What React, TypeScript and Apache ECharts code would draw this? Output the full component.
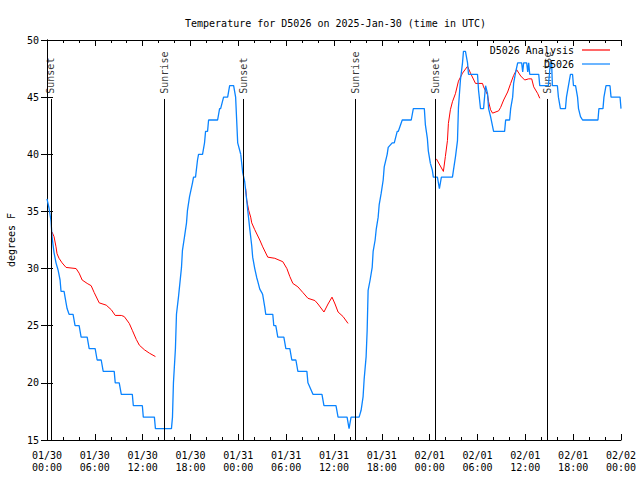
import React, { useEffect, useRef } from "react";
import * as echarts from "echarts";

const FONT = "'DejaVu Sans Mono', 'Liberation Mono', monospace";
const TITLE = "Temperature for D5026 on 2025-Jan-30 (time in UTC)";

// x values are hours since 2025-01-30 00:00 UTC
const tickLabels = [
  "01/30\n00:00", "01/30\n06:00", "01/30\n12:00", "01/30\n18:00",
  "01/31\n00:00", "01/31\n06:00", "01/31\n12:00", "01/31\n18:00",
  "02/01\n00:00", "02/01\n06:00", "02/01\n12:00", "02/01\n18:00",
  "02/02\n00:00",
];

const sunsetHours = [0.5, 24.65, 48.72];
const sunriseHours = [14.73, 38.65, 62.8];

// Observations (D5026)
const obsDay1: [number, number][] = [
  [0, 36.1], [0.25, 35.3], [0.5, 34.2], [0.63, 32.8], [0.88, 31.4], [1.13, 30.5], [1.38, 29.9],
  [1.64, 29.0], [1.76, 28], [2.14, 28], [2.39, 27], [2.52, 26.5], [2.77, 26], [3.27, 26],
  [3.52, 25], [4.03, 25], [4.28, 24], [5.04, 24], [5.29, 23], [6.04, 23], [6.29, 22], [6.8, 22],
  [7.05, 21], [8.43, 21], [8.56, 20], [9.06, 20], [9.32, 19], [10.7, 19], [10.83, 18], [11.96, 18],
  [12.08, 17], [13.47, 17], [13.6, 16], [15.61, 16], [15.74, 17], [15.86, 20], [16.11, 23],
  [16.24, 26], [16.49, 27.5], [16.87, 30.1], [16.99, 31.6], [17.25, 32.8], [17.5, 34],
  [17.62, 35.1], [17.88, 36.3], [18.25, 37.5], [18.38, 38], [18.63, 38], [18.88, 39.5],
  [19.01, 40], [19.51, 40], [19.76, 41], [19.89, 42], [20.14, 42], [20.27, 43], [21.4, 43],
  [21.65, 44], [21.78, 44], [22.15, 45], [22.66, 45], [22.91, 46], [23.41, 46], [23.66, 45],
  [23.79, 43], [23.92, 41],
];
const obsDay2: [number, number][] = [
  [24.3, 40], [24.55, 38.4], [24.8, 37.6], [25.05, 36], [25.18, 35.1], [25.43, 33.5], [25.68, 32],
  [25.8, 31], [26.06, 30], [26.31, 29.2], [26.43, 28.9], [26.69, 28.2], [26.94, 27.9],
  [27.06, 27.7], [27.32, 26.6], [27.44, 26], [28.32, 26], [28.45, 25], [28.7, 25], [28.95, 24],
  [29.71, 24], [29.96, 23], [30.46, 23], [30.71, 22], [31.22, 22], [31.47, 21], [32.6, 21],
  [32.73, 20], [33.36, 19], [34.49, 19], [34.74, 18], [36.25, 18], [36.51, 17], [37.64, 17],
  [37.89, 16], [38.14, 17], [39.15, 17], [39.4, 17.6], [39.65, 18.8], [39.78, 20.3],
  [40.03, 22.3], [40.16, 24.6], [40.28, 28.1], [40.53, 29], [40.79, 30.1], [40.91, 31.5],
  [41.16, 32.5], [41.29, 33.4], [41.54, 34.5], [41.67, 35.6], [41.92, 36.6], [42.17, 37.75],
  [42.3, 38.9], [42.67, 40], [42.8, 40.6], [43.3, 41], [43.56, 41], [43.93, 42], [44.06, 42],
  [44.56, 43], [45.69, 43], [45.95, 44], [47.33, 44], [47.46, 42.6], [47.71, 41.4],
  [47.83, 40.3],
];
const obsDay3: [number, number][] = [
  [48.09, 39.2], [48.34, 38.6], [48.46, 38], [48.97, 38], [49.22, 37], [49.47, 38], [50.86, 38],
  [50.98, 38.6], [51.24, 39.8], [51.49, 41.2], [51.61, 44.1], [51.86, 46.5], [52.12, 48],
  [52.24, 49], [52.49, 49], [52.75, 48], [52.87, 47], [54.0, 47], [54.13, 45.6], [54.38, 44],
  [54.76, 44], [55.01, 46], [55.26, 45.3], [55.39, 44], [55.64, 43.3], [56.02, 42], [57.4, 42],
  [57.53, 43], [58.03, 43], [58.16, 44], [58.41, 45], [58.53, 46.2], [58.79, 47.2], [59.04, 48],
  [59.54, 48], [59.67, 47.2], [59.79, 48], [60.17, 48], [60.3, 47.2], [60.42, 48], [60.55, 47],
  [61.68, 47], [61.81, 46], [62.89, 46], [63.02, 47], [63.14, 48], [63.3, 48], [63.39, 46],
  [64.02, 46], [64.15, 45], [64.4, 44], [65.03, 44], [65.16, 45], [65.41, 46], [65.66, 47],
  [65.92, 47], [66.04, 46], [66.3, 46], [66.55, 45], [66.67, 44], [66.92, 43.3], [67.18, 43],
  [69.11, 43], [69.23, 44], [69.74, 44], [69.86, 45], [70.12, 46], [70.62, 46], [70.75, 45],
  [71.88, 45], [72.0, 44],
];

// Analysis (D5026 Analysis)
const anaNight1: [number, number][] = [
  [0.63, 33.2], [0.88, 32.8], [1.13, 31.9], [1.26, 31.3], [1.51, 30.9], [1.89, 30.5],
  [2.39, 30.1], [3.65, 30.0], [4.03, 29.6], [4.41, 29.0], [5.04, 28.7], [5.54, 28.5],
  [5.92, 27.9], [6.55, 27.0], [7.43, 26.8], [8.06, 26.4], [8.56, 25.9], [9.32, 25.9],
  [9.69, 25.8], [10.32, 25.2], [10.7, 24.6], [11.2, 23.8], [11.58, 23.3], [12.21, 22.9],
  [12.84, 22.6], [13.6, 22.3],
];
const anaNight2: [number, number][] = [
  [24.92, 37.0], [25.05, 36], [25.3, 35.1], [25.55, 34.5], [25.68, 34], [26.06, 33.4],
  [26.69, 32.5], [27.06, 31.9], [27.69, 31.0], [28.57, 30.9], [29.58, 30.6], [30.09, 30.0],
  [30.46, 29.3], [30.84, 28.7], [31.47, 28.4], [32.1, 27.9], [32.73, 27.4], [33.61, 27.2],
  [33.99, 26.9], [34.74, 26.2], [35.25, 26.9], [35.75, 27.5], [36.13, 26.9], [36.51, 26.2],
  [37.14, 25.8], [37.76, 25.2],
];
const anaNight3: [number, number][] = [
  [48.84, 39.6], [49.72, 38.5], [49.97, 39.8], [50.23, 41.2], [50.35, 42.7], [50.6, 43.9],
  [50.86, 44.6], [51.23, 45.3], [51.61, 46.4], [52.12, 47.1], [52.75, 47.7], [53.12, 47.1],
  [53.75, 46.2], [54.63, 46.2], [54.76, 45.9], [55.26, 45.2], [55.39, 44.6], [55.64, 43.9],
  [55.89, 43.6], [56.65, 43.8], [56.9, 44.1], [57.28, 44.75], [57.78, 45.45], [58.16, 46.2],
  [58.53, 46.9], [58.91, 47.4], [59.42, 46.85], [59.92, 46.5], [60.42, 46.6], [60.8, 46.6],
  [61.05, 45.9], [61.56, 45.3], [61.81, 44.9],
];

const Y_MIN = 15;
const Y_MAX = 50;
const SUN_LINE_TOP = 44.84;
const SUN_LABEL_Y = 45.3;

const RED = "#ff0000";
const BLUE = "#0a84ff";

export default function App() {
  const ref = useRef<HTMLDivElement>(null);

  useEffect(() => {
    if (!ref.current) return;
    const chart = echarts.init(ref.current, undefined, { renderer: "svg" });

    const tickCommon = {
      axisLine: { show: true, lineStyle: { color: "#000", width: 1 } },
      axisTick: { show: true, inside: true, length: 6, lineStyle: { color: "#000", width: 1 } },
      splitLine: { show: false },
    };

    const sunEvents = [
      ...sunsetHours.map((h) => ({ h, name: "Sunset" })),
      ...sunriseHours.map((h) => ({ h, name: "Sunrise" })),
    ];

    const option: any = {
      animation: false,
      backgroundColor: "#fff",
      textStyle: { fontFamily: FONT },
      title: {
        text: TITLE,
        left: 180,
        top: 13,
        textStyle: { fontFamily: FONT, fontSize: 10, fontWeight: "normal", color: "#000" },
      },
      legend: {
        orient: "vertical",
        right: 30,
        top: 45,
        padding: 0,
        align: "right",
        itemWidth: 28,
        itemHeight: 10,
        itemGap: 4,
        icon: "path://M0,0H28V1.2H0Z",
        selectedMode: false,
        textStyle: { fontFamily: FONT, fontSize: 10, color: "#000", padding: [0, 3, 0, 0] },
        data: ["D5026 Analysis", "D5026"],
      },
      grid: { left: 47, top: 40, width: 574, height: 400, containLabel: false, outerBoundsMode: "none" },
      xAxis: [
        {
          type: "value",
          min: 0,
          max: 72,
          interval: 6,
          position: "bottom",
          ...tickCommon,
          minorTick: { show: true, splitNumber: 3, length: 3, lineStyle: { color: "#000" } },
          minorSplitLine: { show: false },
          axisLabel: {
            show: true,
            margin: 9,
            fontFamily: FONT,
            fontSize: 10,
            lineHeight: 12,
            color: "#000",
            formatter: (v: number) => tickLabels[Math.round(v / 6)] ?? "",
          },
        },
        {
          type: "value",
          min: 0,
          max: 72,
          interval: 6,
          position: "top",
          ...tickCommon,
          minorTick: { show: true, splitNumber: 3, length: 3, lineStyle: { color: "#000" } },
          minorSplitLine: { show: false },
          axisLabel: { show: false },
        },
      ],
      yAxis: [
        {
          type: "value",
          min: Y_MIN,
          max: Y_MAX,
          interval: 5,
          position: "left",
          ...tickCommon,
          name: "degrees F",
          nameLocation: "middle",
          nameRotate: 90,
          nameGap: 31,
          nameTextStyle: { fontFamily: FONT, fontSize: 10, color: "#000" },
          axisLabel: { margin: 8, fontFamily: FONT, fontSize: 10, color: "#000" },
        },
        {
          type: "value",
          min: Y_MIN,
          max: Y_MAX,
          interval: 5,
          position: "right",
          ...tickCommon,
          axisLabel: { show: false },
        },
      ],
      series: [
        {
          type: "scatter",
          name: "sun",
          silent: true,
          symbolSize: 0,
          data: sunEvents.map((e) => ({ value: [e.h, SUN_LABEL_Y], name: e.name })),
          label: {
            show: true,
            position: "inside",
            align: "left",
            verticalAlign: "middle",
            rotate: 90,
            formatter: (p: any) => p.name,
            fontFamily: FONT,
            fontSize: 10,
            color: "#000",
          },
          markLine: {
            silent: true,
            symbol: ["none", "none"],
            label: { show: false },
            emphasis: { disabled: true },
            lineStyle: { color: "#000", width: 1, type: "solid" },
            data: sunEvents.map((e) => [
              { coord: [e.h, SUN_LINE_TOP] },
              { coord: [e.h, Y_MIN] },
            ]),
          },
        },
        ...[anaNight1, anaNight2, anaNight3].map((d) => ({
          type: "line",
          name: "D5026 Analysis",
          data: d,
          symbol: "none",
          showSymbol: false,
          lineStyle: { color: RED, width: 1 },
          itemStyle: { color: RED },
          silent: true,
        })),
        ...[obsDay1, obsDay2, obsDay3].map((d, i, arr) => ({
          type: "line",
          name: "D5026",
          data: i < arr.length - 1 ? [...d, arr[i + 1][0]] : d,
          symbol: "none",
          showSymbol: false,
          lineStyle: { color: BLUE, width: 1.3 },
          itemStyle: { color: BLUE },
          silent: true,
        })),
      ],
    };

    chart.setOption(option);
    return () => chart.dispose();
  }, []);

  return <div ref={ref} style={{ width: 640, height: 480, position: "absolute", left: 0, top: 0 }} />;
}
